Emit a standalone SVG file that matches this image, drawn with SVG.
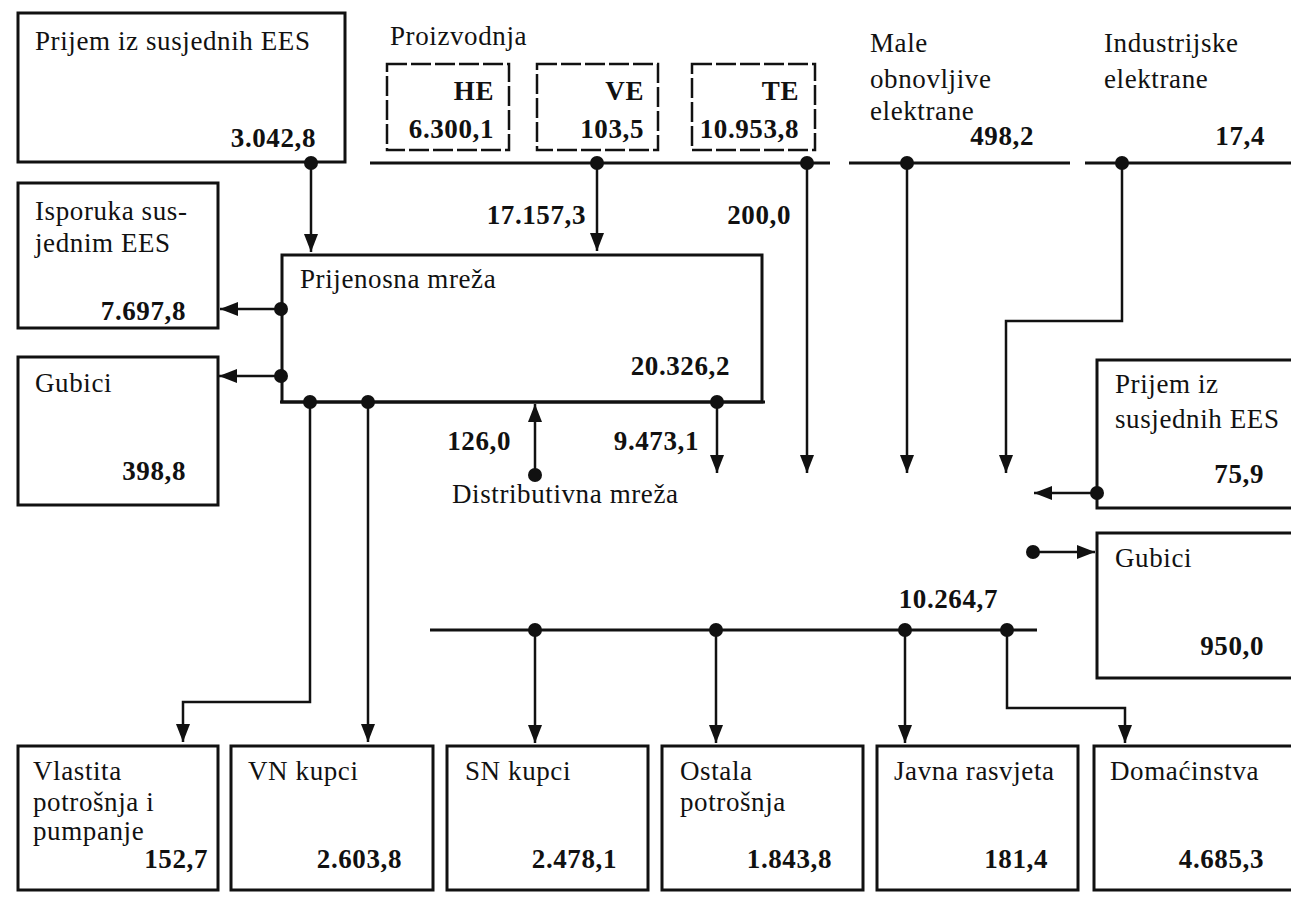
<svg xmlns="http://www.w3.org/2000/svg" width="1291" height="905" viewBox="0 0 1291 905">
<style>
  .bg{fill:#ffffff}
  .box{fill:none;stroke:#111;stroke-width:3}
  .gen{fill:none;stroke:#111;stroke-width:2.5;stroke-dasharray:20 4}
  .bus{fill:none;stroke:#111;stroke-width:3}
  .con{fill:none;stroke:#111;stroke-width:2.5}
  .dot{fill:#111}
  text{font-family:"Liberation Serif","Times New Roman",serif;font-size:27px;fill:#111;letter-spacing:0.6px}
  .num{font-weight:bold;text-anchor:end}
</style>
<defs>
  <marker id="arr" viewBox="0 0 18 14" refX="18" refY="7" markerWidth="18" markerHeight="14" markerUnits="userSpaceOnUse" orient="auto">
    <path d="M0,0 L18,7 L0,14 z" fill="#111"/>
  </marker>
</defs>
<rect class="bg" x="0" y="0" width="1291" height="905"/>

<g id="prijem-ees-top">
  <rect class="box" x="18" y="13" width="327" height="149"/>
  <text x="35" y="50">Prijem iz susjednih EES</text>
  <text class="num" x="316" y="147">3.042,8</text>
</g>

<g id="proizvodnja">
  <text x="390" y="45">Proizvodnja</text>
</g>
<g id="he">
  <rect class="gen" x="387" y="64" width="122" height="86"/>
  <text class="num" x="494" y="100">HE</text>
  <text class="num" x="494" y="138">6.300,1</text>
</g>
<g id="ve">
  <rect class="gen" x="537" y="64" width="121" height="86"/>
  <text class="num" x="644" y="100">VE</text>
  <text class="num" x="644" y="138">103,5</text>
</g>
<g id="te">
  <rect class="gen" x="692" y="64" width="123" height="86"/>
  <text class="num" x="799" y="100">TE</text>
  <text class="num" x="799" y="138">10.953,8</text>
</g>

<g id="male-obnovljive">
  <text x="870" y="52">Male</text>
  <text x="870" y="88">obnovljive</text>
  <text x="870" y="120">elektrane</text>
  <text class="num" x="1034" y="145">498,2</text>
</g>
<g id="industrijske">
  <text x="1104" y="52">Industrijske</text>
  <text x="1104" y="88">elektrane</text>
  <text class="num" x="1265" y="145">17,4</text>
</g>

<g id="isporuka-ees">
  <rect class="box" x="18" y="183" width="200" height="145"/>
  <text x="35" y="220">Isporuka sus-</text>
  <text x="35" y="252">jednim EES</text>
  <text class="num" x="186" y="320">7.697,8</text>
</g>

<g id="gubici-left">
  <rect class="box" x="18" y="357" width="200" height="148"/>
  <text x="35" y="392">Gubici</text>
  <text class="num" x="186" y="480">398,8</text>
</g>

<g id="prijenosna-mreza">
  <rect class="box" x="282" y="255" width="480" height="147"/>
  <text x="300" y="288">Prijenosna mreža</text>
  <text class="num" x="730" y="375">20.326,2</text>
</g>

<g id="distributivna-mreza">
  <text x="452" y="503">Distributivna mreža</text>
</g>

<g id="prijem-ees-right">
  <path class="box" d="M1295,360 H1097 V508 H1295"/>
  <text x="1115" y="393">Prijem iz</text>
  <text x="1115" y="428">susjednih EES</text>
  <text class="num" x="1264" y="483">75,9</text>
</g>

<g id="gubici-right">
  <path class="box" d="M1295,533 H1097 V678 H1295"/>
  <text x="1115" y="567">Gubici</text>
  <text class="num" x="1264" y="655">950,0</text>
</g>

<g id="vlastita">
  <rect class="box" x="18" y="746" width="200" height="144"/>
  <text x="33" y="780">Vlastita</text>
  <text x="33" y="811">potrošnja i</text>
  <text x="33" y="840">pumpanje</text>
  <text class="num" x="208" y="868">152,7</text>
</g>
<g id="vn-kupci">
  <rect class="box" x="231" y="746" width="202" height="144"/>
  <text x="248" y="780">VN kupci</text>
  <text class="num" x="402" y="868">2.603,8</text>
</g>
<g id="sn-kupci">
  <rect class="box" x="447" y="746" width="201" height="144"/>
  <text x="465" y="780">SN kupci</text>
  <text class="num" x="617" y="868">2.478,1</text>
</g>
<g id="ostala">
  <rect class="box" x="662" y="746" width="201" height="144"/>
  <text x="680" y="780">Ostala</text>
  <text x="680" y="811">potrošnja</text>
  <text class="num" x="832" y="868">1.843,8</text>
</g>
<g id="javna">
  <rect class="box" x="877" y="746" width="201" height="144"/>
  <text x="894" y="780">Javna rasvjeta</text>
  <text class="num" x="1048" y="868">181,4</text>
</g>
<g id="domacinstva">
  <rect class="box" x="1094" y="746" width="200" height="144"/>
  <text x="1110" y="780">Domaćinstva</text>
  <text class="num" x="1264" y="868">4.685,3</text>
</g>

<g id="connectors">
  <!-- production bus -->
  <path class="bus" d="M370,163 H830 M849,163 H1070 M1085,163 H1291"/>
  <!-- distribution bus -->
  <path class="bus" d="M430,630 H1037"/>
  <!-- prijenosna bottom extension -->
  <path class="bus" d="M280,402 H765"/>

  <path class="con" d="M311,163 V252" marker-end="url(#arr)"/>
  <path class="con" d="M597,163 V251" marker-end="url(#arr)"/>
  <path class="con" d="M807,163 V473" marker-end="url(#arr)"/>
  <path class="con" d="M907,163 V473" marker-end="url(#arr)"/>
  <path class="con" d="M1122,163 V321 H1006 V473" marker-end="url(#arr)"/>

  <path class="con" d="M281,309 H220" marker-end="url(#arr)"/>
  <path class="con" d="M281,376 H219" marker-end="url(#arr)"/>

  <path class="con" d="M310,402 V702 H183 V742" marker-end="url(#arr)"/>
  <path class="con" d="M368,402 V742" marker-end="url(#arr)"/>
  <path class="con" d="M535,475 V404" marker-end="url(#arr)"/>
  <path class="con" d="M717,402 V473" marker-end="url(#arr)"/>

  <path class="con" d="M1097,493 H1034" marker-end="url(#arr)"/>
  <path class="con" d="M1033,552 H1095" marker-end="url(#arr)"/>

  <path class="con" d="M535,630 V743" marker-end="url(#arr)"/>
  <path class="con" d="M716,630 V743" marker-end="url(#arr)"/>
  <path class="con" d="M905,630 V743" marker-end="url(#arr)"/>
  <path class="con" d="M1007,630 V708 H1125 V743" marker-end="url(#arr)"/>

  <text class="num" x="586" y="224">17.157,3</text>
  <text class="num" x="791" y="224">200,0</text>
  <text class="num" x="511" y="450">126,0</text>
  <text class="num" x="699" y="450">9.473,1</text>
  <text class="num" x="998" y="608">10.264,7</text>

  <circle class="dot" cx="311" cy="163" r="7"/>
  <circle class="dot" cx="597" cy="163" r="7"/>
  <circle class="dot" cx="807" cy="163" r="7"/>
  <circle class="dot" cx="907" cy="163" r="7"/>
  <circle class="dot" cx="1122" cy="163" r="7"/>
  <circle class="dot" cx="281" cy="309" r="7"/>
  <circle class="dot" cx="281" cy="376" r="7"/>
  <circle class="dot" cx="310" cy="402" r="7"/>
  <circle class="dot" cx="368" cy="402" r="7"/>
  <circle class="dot" cx="717" cy="402" r="7"/>
  <circle class="dot" cx="535" cy="475" r="7"/>
  <circle class="dot" cx="1097" cy="493" r="7"/>
  <circle class="dot" cx="1033" cy="552" r="7"/>
  <circle class="dot" cx="535" cy="630" r="7"/>
  <circle class="dot" cx="716" cy="630" r="7"/>
  <circle class="dot" cx="905" cy="630" r="7"/>
  <circle class="dot" cx="1007" cy="630" r="7"/>
</g>
</svg>
